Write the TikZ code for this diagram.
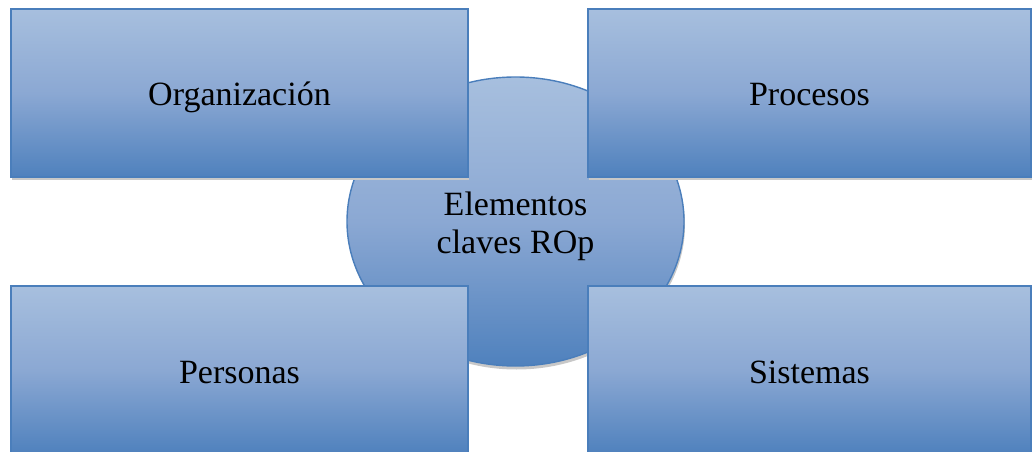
\documentclass[tikz,border=0pt]{standalone}
\usepackage{fontspec}
\setmainfont{Liberation Serif}
\usetikzlibrary{shapes.geometric}
\definecolor{edgeblue}{HTML}{4A7EBB}
\definecolor{lightblue}{HTML}{A7BFDE}
\definecolor{midblue}{HTML}{8BA8D3}
\definecolor{darkblue}{HTML}{4F81BD}
\definecolor{shadowgray}{HTML}{C8C8C8}
\tikzset{
  x=1pt, y=-1pt,
  fillgrad/.style={top color=lightblue, bottom color=darkblue, middle color=midblue},
  elem/.style={draw=edgeblue, line width=1.4pt, fillgrad, text=black,
    font=\fontsize{34}{38}\selectfont, align=center, inner sep=0pt},
  boxshape/.style={elem, rectangle, minimum width=457pt, minimum height=168pt,
    text height=32pt, text depth=6pt},
  shadowbox/.style={fill=shadowgray, draw=none, rectangle, minimum width=457pt, minimum height=168pt, inner sep=0pt},
}
\begin{document}
\begin{tikzpicture}
\useasboundingbox (0,0) rectangle (1034,452);
% central ellipse
\node[fill=shadowgray, ellipse, minimum width=337pt, minimum height=289pt, inner sep=0pt] (cshadow) at (516.5,225) {};
\node[elem, ellipse, minimum width=337pt, minimum height=289pt, text height=70pt, text depth=7pt] (center) at (515.5,221.5) {Elementos\\claves ROp};
% shadows of boxes
\node[shadowbox] (s1) at (240,96) {};
\node[shadowbox, minimum width=443pt] (s2) at (810,96) {};
\node[shadowbox] (s3) at (240,373) {};
\node[shadowbox, minimum width=443pt] (s4) at (810,373) {};
% boxes
\node[boxshape] (org) at (239.5,93) {Organización};
\node[boxshape, minimum width=443pt] (proc) at (809.5,93) {Procesos};
\node[boxshape] (pers) at (239.5,370) {Personas};
\node[boxshape, minimum width=443pt] (sist) at (809.5,370) {Sistemas};
\end{tikzpicture}
\end{document}
